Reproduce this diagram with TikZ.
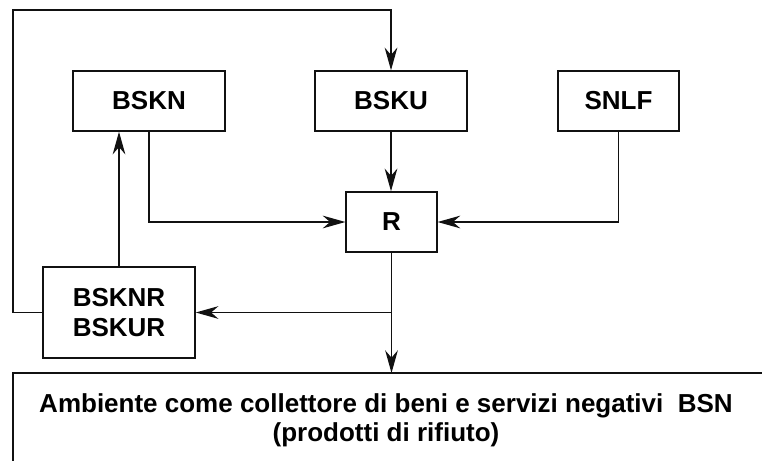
\documentclass[tikz,border=0pt]{standalone}
\usepackage{fontspec}
\setmainfont{Liberation Sans}
\usepackage{tikz}
\usetikzlibrary{arrows.meta}
\definecolor{ink}{HTML}{111111}

\tikzset{
  box/.style={draw=ink, line width=1.1pt, minimum width=114pt, minimum height=45pt,
    inner sep=0pt, align=center, font=\fontsize{19.5}{23}\selectfont\bfseries},
  flow/.style={draw=ink, line width=1.1pt, -{Stealth[length=17pt, width=9.5pt, inset=5.5pt]}},
  wire/.style={draw=ink, line width=1.1pt}
}

\begin{document}
\begin{tikzpicture}[x=0.75pt, y=-0.75pt]
  \useasboundingbox (0,0) rectangle (762,460);

  % top row
  \node[box] (bskn) at (149,101) {BSKN};
  \node[box] (bsku) at (391,101) {BSKU};
  \node[box, minimum width=90.75pt] (snlf) at (618.5,101) {SNLF};

  % middle
  \node[box, minimum width=68pt] (r) at (391.5,222) {R};
  \node[box, minimum height=68pt] (bsknr) at (119,312.5) {BSKNR\\BSKUR};

  % environment box, open to the right and below
  \coordinate (amb) at (13,373);
  \draw[wire] (13,470) -- (amb) -- (770,373);
  \node[font=\fontsize{19.5}{22}\selectfont\bfseries, align=center] (ambtext) at (386,420)
    {Ambiente come collettore di beni e servizi negativi\ \ BSN\\(prodotti di rifiuto)};

  % flows
  \coordinate (loop) at (13,10);
  \draw[flow] (bsknr.west) -| (loop) -| (bsku.north);
  \draw[flow] (bsku.south) -- (bsku.south |- r.north);
  \draw[flow] (bskn.south) |- (r.west);
  \draw[flow] (snlf.south) |- (r.east);
  \draw[flow] (r.south) -- (r.south |- amb);
  \draw[flow] (r.south |- bsknr.east) -- (bsknr.east);
  \draw[flow] (bsknr.north) -- (bsknr.north |- bskn.south);
\end{tikzpicture}
\end{document}
